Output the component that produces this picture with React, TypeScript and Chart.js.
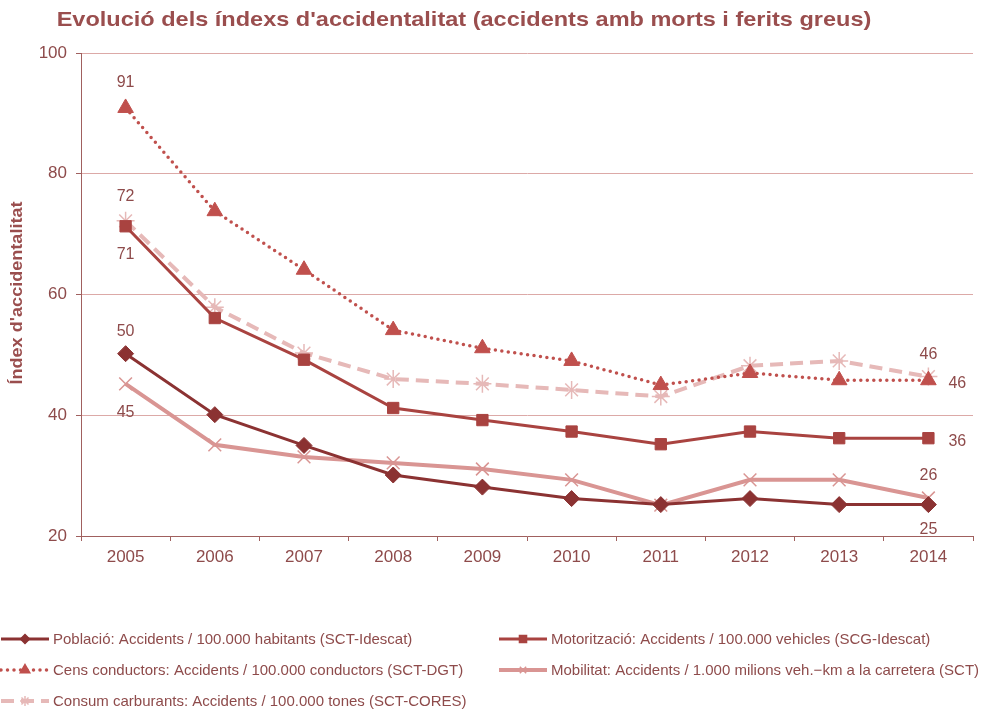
import React, { useEffect, useRef } from 'react';
import { Chart, registerables } from 'chart.js';
import { drawPoint } from 'chart.js/helpers';

Chart.register(...registerables);

const years = ['2005', '2006', '2007', '2008', '2009', '2010', '2011', '2012', '2013', '2014'];
const poblacio = [50.2, 40.1, 35.0, 30.1, 28.1, 26.2, 25.2, 26.2, 25.2, 25.2];
const motoritzacio = [71.3, 56.1, 49.2, 41.2, 39.2, 37.3, 35.2, 37.3, 36.2, 36.2];
const censConductors = [90.9, 73.8, 64.1, 54.1, 51.1, 49.0, 45.0, 47.0, 45.8, 45.8];
const mobilitat = [45.2, 35.1, 33.1, 32.1, 31.1, 29.3, 25.1, 29.3, 29.3, 26.3];
const consum = [72.2, 57.9, 50.3, 46.0, 45.2, 44.2, 43.1, 48.2, 49.0, 46.4];

const seriesNames = [
  'Població: Accidents / 100.000 habitants (SCT-Idescat)',
  'Motorització: Accidents / 100.000 vehicles (SCG-Idescat)',
  'Cens conductors: Accidents / 100.000 conductors (SCT-DGT)',
  'Mobilitat: Accidents / 1.000 milions veh.\u2212km a la carretera (SCT)',
  'Consum carburants: Accidents / 100.000 tones (SCT-CORES)',
];

const TITLE = "Evolució dels índexs d'accidentalitat (accidents amb morts i ferits greus)";
const Y_TITLE = "Índex d'accidentalitat";

const TEXT = '#8E4B4B';
const FONT = '"Liberation Sans", Arial, sans-serif';

// label placement per dataset: [index, mode, offset]
const labelCfg: Array<Array<[number, string, number]>> = [
  [[0, 'above', 22], [9, 'below', 25]],
  [[0, 'below', 28], [9, 'right', 20]],
  [[0, 'above', 25], [9, 'right', 20]],
  [[0, 'below', 29], [9, 'above', 22]],
  [[0, 'above', 24], [9, 'above', 22]],
];

const legendSlots = [
  { x: 0, y: 639 },
  { x: 498, y: 639 },
  { x: 0, y: 670 },
  { x: 498, y: 670 },
  { x: 0, y: 701 },
];
const legendMarkerRadius = [4.5, 5, 5.5, 4.5, 5];

const overlay = {
  id: 'overlay',
  afterDraw(chart: any) {
    const ctx = chart.ctx;
    ctx.save();
    // title
    ctx.save();
    ctx.fillStyle = '#9A4E4E';
    ctx.font = `bold 21px ${FONT}`;
    ctx.textAlign = 'center';
    ctx.textBaseline = 'middle';
    ctx.translate(464, 20);
    ctx.scale(1.12, 1);
    ctx.fillText(TITLE, 0, 0);
    ctx.restore();
    // y title
    ctx.save();
    ctx.translate(18, 293);
    ctx.rotate(-Math.PI / 2);
    ctx.scale(1.13, 1);
    ctx.font = `bold 16px ${FONT}`;
    ctx.fillStyle = '#9A4E4E';
    ctx.textAlign = 'center';
    ctx.textBaseline = 'middle';
    ctx.fillText(Y_TITLE, 0, 0);
    ctx.restore();

    // data labels
    ctx.font = `16px ${FONT}`;
    ctx.fillStyle = TEXT;
    ctx.textBaseline = 'middle';
    chart.data.datasets.forEach((ds: any, di: number) => {
      const meta = chart.getDatasetMeta(di);
      labelCfg[di].forEach(([idx, mode, off]) => {
        const pt = meta.data[idx];
        const txt = String(Math.round(ds.data[idx]));
        if (mode === 'above') {
          ctx.textAlign = 'center';
          ctx.fillText(txt, pt.x, pt.y - off);
        } else if (mode === 'below') {
          ctx.textAlign = 'center';
          ctx.fillText(txt, pt.x, pt.y + off);
        } else {
          ctx.textAlign = 'left';
          ctx.fillText(txt, pt.x + off, pt.y + 3);
        }
      });
    });

    // legend
    ctx.font = `15px ${FONT}`;
    ctx.textAlign = 'left';
    ctx.textBaseline = 'middle';
    chart.data.datasets.forEach((ds: any, di: number) => {
      const s = legendSlots[di];
      ctx.save();
      ctx.strokeStyle = ds.borderColor;
      ctx.lineWidth = ds.borderWidth;
      ctx.lineCap = ds.borderCapStyle || 'butt';
      ctx.setLineDash(ds.borderDash || []);
      ctx.beginPath();
      ctx.moveTo(s.x + 1, s.y);
      ctx.lineTo(s.x + 49, s.y);
      ctx.stroke();
      ctx.restore();
      ctx.save();
      ctx.fillStyle = ds.pointBackgroundColor;
      ctx.strokeStyle = ds.pointBorderColor;
      ctx.lineWidth = 1.5;
      drawPoint(ctx, { pointStyle: ds.pointStyle, radius: legendMarkerRadius[di], borderWidth: 1.5, rotation: 0 }, s.x + 25, s.y);
      ctx.restore();
      ctx.fillStyle = TEXT;
      ctx.fillText(seriesNames[di], s.x + 53, s.y + 1);
    });
    ctx.restore();
  },
};

export default function App() {
  const ref = useRef<HTMLCanvasElement>(null);
  useEffect(() => {
    document.body.style.margin = '0';
    const c1 = '#8B3232';
    const c2 = '#A94340';
    const c3 = '#C0504D';
    const c4 = '#D99593';
    const c5 = '#E6B9B8';
    const chart = new Chart(ref.current!, {
      type: 'line',
      data: {
        labels: years,
        datasets: [
          { label: seriesNames[0], data: poblacio, borderColor: c1, backgroundColor: c1, borderWidth: 3, pointStyle: 'rectRot', pointRadius: 8, pointBackgroundColor: c1, pointBorderColor: c1, pointBorderWidth: 1, tension: 0 },
          { label: seriesNames[1], data: motoritzacio, borderColor: c2, backgroundColor: c2, borderWidth: 3, pointStyle: 'rect', pointRadius: 8, pointBackgroundColor: c2, pointBorderColor: c2, pointBorderWidth: 1, tension: 0 },
          { label: seriesNames[2], data: censConductors, borderColor: c3, backgroundColor: c3, borderWidth: 3.5, borderDash: [0, 6.5], borderCapStyle: 'round', pointStyle: 'triangle', pointRadius: 9, pointBackgroundColor: c3, pointBorderColor: c3, pointBorderWidth: 1, tension: 0 },
          { label: seriesNames[3], data: mobilitat, borderColor: c4, backgroundColor: c4, borderWidth: 4, pointStyle: 'crossRot', pointRadius: 9, pointBackgroundColor: c4, pointBorderColor: c4, pointBorderWidth: 1.5, tension: 0 },
          { label: seriesNames[4], data: consum, borderColor: c5, backgroundColor: c5, borderWidth: 4, borderDash: [13, 7], pointStyle: 'star', pointRadius: 9, pointBackgroundColor: c5, pointBorderColor: c5, pointBorderWidth: 1.5, tension: 0 },
        ] as any,
      },
      options: {
        animation: false,
        responsive: false,
        layout: { padding: { left: 0, right: 19, top: 53, bottom: 144 } },
        plugins: { legend: { display: false }, title: { display: false }, tooltip: { enabled: false } },
        scales: {
          x: {
            offset: true,
            grid: { drawOnChartArea: false, offset: true, tickLength: 5, color: '#A0605E' },
            border: { color: '#A0605E', width: 1 },
            ticks: { color: TEXT, font: { family: FONT, size: 17 }, padding: 6 },
            afterFit: (s: any) => { s.height = 30; },
          },
          y: {
            min: 20,
            max: 100,
            ticks: { stepSize: 20, color: TEXT, font: { family: FONT, size: 17 }, padding: 9 },
            grid: { color: '#DCA9A7', tickLength: 5, tickColor: '#A0605E' },
            border: { color: '#A0605E', width: 1 },
            afterFit: (s: any) => { s.width = 81; },
          },
        },
      },
      plugins: [overlay],
    });
    return () => chart.destroy();
  }, []);
  return (
    <div style={{ width: 992, height: 710, position: 'relative' }}>
      <canvas ref={ref} width={992} height={710} style={{ display: 'block' }} />
    </div>
  );
}
